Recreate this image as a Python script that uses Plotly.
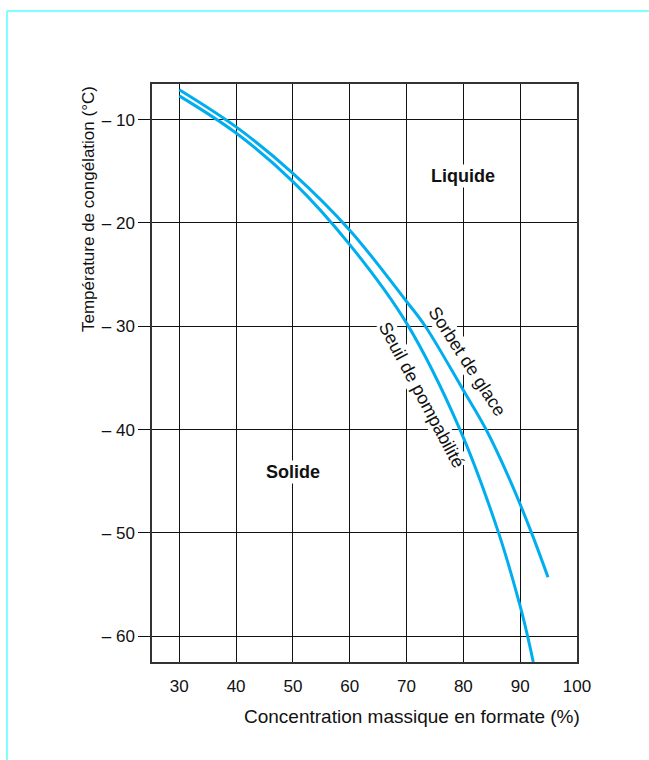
import plotly.graph_objects as go

# Data
sorbet_x = [30, 40, 50, 60, 70, 73.3, 80, 84, 88.2, 92, 94.9]
sorbet_y = [-7.1, -10.7, -15.2, -20.7, -27.6, -30, -36.2, -40, -44.9, -50, -54.3]
seuil_x = [30, 40, 50, 60, 70, 79.4, 86.2, 90, 91.3, 92.3]
seuil_y = [-7.7, -11.3, -16.0, -22.1, -29.7, -40, -50, -57.1, -60, -62.5]

x_ticks = [30, 40, 50, 60, 70, 80, 90, 100]
y_ticks = [-10, -20, -30, -40, -50, -60]
y_ticktext = ["\u2013 10", "\u2013 20", "\u2013 30", "\u2013 40", "\u2013 50", "\u2013 60"]

FONT = "Liberation Sans, Arial, sans-serif"
LINE_COLOR = "#00aeef"
CYAN = "#80ffff"

fig = go.Figure()

W, H = 649, 760
L, R, T, B = 152, 72, 84, 98
pw, ph = W - L - R, H - T - B

def px(x):
    return (x - L) / pw

def py(y):
    return (H - B - y) / ph

fig.update_layout(
    width=W, height=H,
    margin=dict(l=L, r=R, t=T, b=B),
    paper_bgcolor="white", plot_bgcolor="white",
    font=dict(family=FONT, size=17, color="#111"),
    xaxis=dict(range=[25.2, 100], tickvals=x_ticks, ticktext=[str(v) for v in x_ticks],
               showgrid=True, gridcolor="#111", gridwidth=1,
               showline=True, linecolor="#333", linewidth=1.5, mirror=True,
               ticks="", ticklabelstandoff=8, zeroline=False,
               tickfont=dict(family=FONT, size=17, color="#111")),
    yaxis=dict(range=[-62.5, -6.55], tickvals=y_ticks, ticktext=y_ticktext,
               showgrid=True, gridcolor="#111", gridwidth=1,
               showline=True, linecolor="#333", linewidth=1.5, mirror=True,
               ticks="outside", ticklen=12, tickcolor="#111", tickwidth=1,
               zeroline=False,
               tickfont=dict(family=FONT, size=17, color="#111")),
)

annotations = [
    dict(text="Concentration massique en formate (%)", xref="paper", yref="paper",
         x=px(582), y=py(716), xanchor="right", yanchor="middle", showarrow=False,
         font=dict(family=FONT, size=19, color="#111")),
    dict(text="Température de congélation (°C)", xref="paper", yref="paper",
         x=px(88), y=py(84), xanchor="center", yanchor="top", textangle=-90,
         showarrow=False, font=dict(family=FONT, size=17, color="#111")),
    dict(text="<b>Liquide</b>", x=80.0, y=-15.5, showarrow=False, bgcolor="white",
         font=dict(family=FONT, size=18, color="#111")),
    dict(text="<b>Solide</b>", x=50.0, y=-44.1, showarrow=False, bgcolor="white",
         font=dict(family=FONT, size=18, color="#111")),
    dict(text="Sorbet de glace", x=80.6, y=-33.4, textangle=57, showarrow=False,
         bgcolor="white", borderpad=0, font=dict(family=FONT, size=18, color="#111")),
    dict(text="Seuil de pompabilité", x=72.6, y=-36.7, textangle=62, showarrow=False,
         bgcolor="white", borderpad=0, font=dict(family=FONT, size=18, color="#111")),
]
fig.update_layout(annotations=annotations)

# curves drawn above annotation backgrounds via a second overlaid axis pair is not needed;
# traces are added after layout
fig.add_trace(go.Scatter(x=seuil_x, y=seuil_y, mode="lines",
                         line=dict(color=LINE_COLOR, width=3, shape="spline"),
                         showlegend=False, hoverinfo="skip"))
fig.add_trace(go.Scatter(x=sorbet_x, y=sorbet_y, mode="lines",
                         line=dict(color=LINE_COLOR, width=3, shape="spline"),
                         showlegend=False, hoverinfo="skip"))

fig.add_shape(type="line", xref="paper", yref="paper",
              x0=px(7), x1=px(W + 5), y0=py(11), y1=py(11),
              line=dict(color=CYAN, width=2))
fig.add_shape(type="line", xref="paper", yref="paper",
              x0=px(7), x1=px(7), y0=py(11), y1=py(H + 5),
              line=dict(color=CYAN, width=2))

fig.write_html("out.html")
